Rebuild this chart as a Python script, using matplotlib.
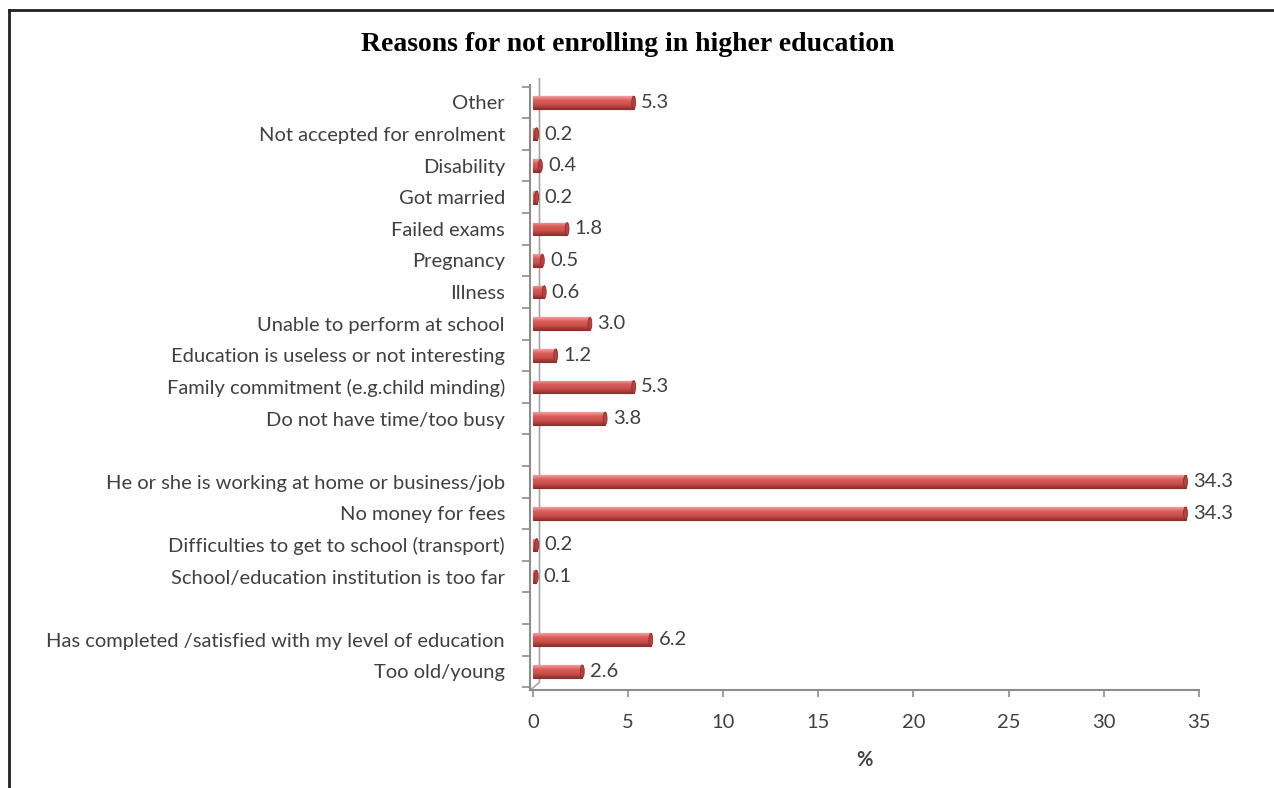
import numpy as np
import matplotlib
matplotlib.use("Agg")
import matplotlib.pyplot as plt
from matplotlib.colors import LinearSegmentedColormap
from matplotlib.lines import Line2D
from matplotlib.patches import Ellipse

# reasons, top to bottom; empty strings are the spacer rows between groups
categories = [
    "Other",
    "Not accepted for enrolment",
    "Disability",
    "Got married",
    "Failed exams",
    "Pregnancy",
    "Illness",
    "Unable to perform at school",
    "Education is useless or not interesting",
    "Family commitment (e.g.child minding)",
    "Do not have time/too busy",
    "",
    "He or she is working at home or business/job",
    "No money for fees",
    "Difficulties to get to school (transport)",
    "School/education institution is too far",
    "",
    "Has completed /satisfied with my level of education",
    "Too old/young",
]
values = [5.3, 0.2, 0.4, 0.2, 1.8, 0.5, 0.6, 3.0, 1.2, 5.3, 3.8, None,
          34.3, 34.3, 0.2, 0.1, None, 6.2, 2.6]
x_ticks = [0, 5, 10, 15, 20, 25, 30, 35]

label_font = "Lato"
text_col = "#404040"
axis_col = "#8c8c8c"
fs = 14.5

fig = plt.figure(figsize=(12.74, 7.88), dpi=100)
ax = fig.add_axes([0.416, 0.124, 0.525, 0.768])

# shaded "cylinder" look for the bars
shade = LinearSegmentedColormap.from_list(
    "shade", ["#f0a09e", "#dc5c58", "#c8504c", "#93302d"])
grad = np.linspace(0, 1, 64).reshape(-1, 1)

bar_h = 0.4
ypos = np.arange(len(categories))
for y, v in zip(ypos, values):
    if v is None:
        continue
    w = max(v, 0.18)
    bar = ax.barh(y, w, height=bar_h, left=0.0, color="#c0504d",
                  edgecolor="#8e2c2a", linewidth=0.8, zorder=3)[0]
    im = ax.imshow(grad, cmap=shade, aspect="auto", zorder=3.5,
                   extent=(0.0, w, y + bar_h / 2, y - bar_h / 2))
    im.set_clip_path(bar)
    ax.add_patch(Ellipse((w, y), 0.2, bar_h, facecolor="#b9413e",
                         edgecolor="#8e2c2a", linewidth=0.6, zorder=4))
    ax.text(w + 0.4, y, f"{v:.1f}", va="center", ha="left", fontsize=fs,
            family=label_font, color=text_col)

ax.set_xlim(-0.15, 35)
ax.set_ylim(len(categories) - 0.4, -0.55)

# axis lines and ticks
for s in ["top", "right"]:
    ax.spines[s].set_visible(False)
ax.spines["left"].set_color(axis_col)
ax.spines["bottom"].set_color(axis_col)
ax.spines["left"].set_linewidth(1.5)
ax.spines["bottom"].set_linewidth(1.5)

# back wall edge
yb = len(categories) - 0.4
ax.plot([0.35, 0.35, -0.15], [-0.75, yb - 0.25, yb], color="#a6a6a6",
        linewidth=1.2, zorder=2, clip_on=False)

ax.set_xticks(x_ticks)
ax.set_xticklabels([str(t) for t in x_ticks], family=label_font,
                   fontsize=fs, color=text_col)
ax.tick_params(axis="x", length=5, width=1.2, color=axis_col, pad=12)

ax.set_yticks(np.arange(-0.5, len(categories) - 0.4, 1.0), minor=True)
ax.set_yticks(ypos)
ax.set_yticklabels(categories, family=label_font, fontsize=fs, color=text_col)
ax.tick_params(axis="y", which="major", length=0, pad=18)
ax.tick_params(axis="y", which="minor", length=6, width=1.2, color=axis_col)

ax.set_xlabel("%", family=label_font, fontsize=fs, fontweight="bold",
              color=text_col, labelpad=14)

fig.text(0.493, 0.944, "Reasons for not enrolling in higher education",
         ha="center", va="center", family="Liberation Serif",
         fontweight="bold", fontsize=20, color="black")

# outer frame (top and left edges)
fig.add_artist(Line2D([0.007, 1.0], [0.987, 0.987], color="#222222",
                      linewidth=2, transform=fig.transFigure))
fig.add_artist(Line2D([0.007, 0.007], [0.0, 0.987], color="#222222",
                      linewidth=2, transform=fig.transFigure))

fig.savefig("out.png", dpi=100)
